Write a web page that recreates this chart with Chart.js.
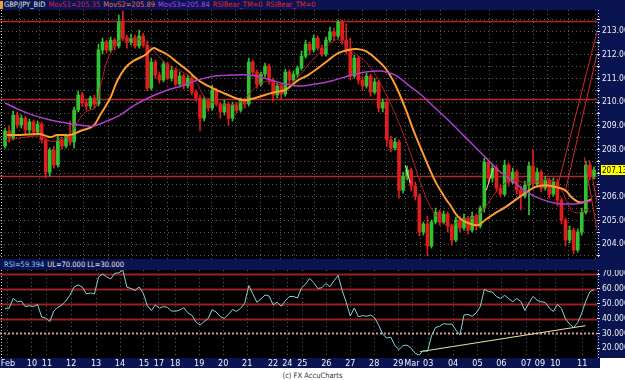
<!DOCTYPE html>
<html>
<head>
<meta charset="utf-8">
<title>GBP/JPY_BID</title>
<script src="https://cdn.jsdelivr.net/npm/chart.js@4.4.1/dist/chart.umd.min.js"></script>
<style>
  html, body { margin: 0; padding: 0; background: #fff; }
  body { position: relative; width: 625px; height: 380px; overflow: hidden;
         font-family: "Liberation Sans Narrow", "DejaVu Sans Condensed", sans-serif; }
  #frame { position: absolute; left: 0; top: 0; width: 625px; height: 358px; background: #0a1450; }
  #dateBar { position: absolute; left: 0; top: 358px; width: 600px; height: 10px; background: #0a1450; }
  .txt { position: absolute; font-size: 7.5px; line-height: 10px; white-space: nowrap; }
  .txt span { margin-right: 3px; }
  canvas { position: absolute; left: 0; }
  #price { top: 10px; }
  #rsi { top: 270px; }
  #copy { position: absolute; left: 0; top: 371px; width: 625px; text-align: center; font-size: 7.5px; color: #333; }
</style>
</head>
<body>
<div id="frame"></div>
<div id="dateBar"></div>
<div style="position:absolute;left:0;top:1px;width:3px;height:8px;background:#f0a030"></div>
<div class="txt" style="left:4px;top:0"><span style="color:#e4e4e4">GBP/JPY_BID</span><span id="t1" style="color:#d8204e"></span><span id="t2" style="color:#e86a5a"></span><span id="t3" style="color:#b040e8"></span><span style="color:#e02434">RSIBear_TM=0</span><span style="color:#e02434">RSIBear_TM=0</span></div>
<div class="txt" style="left:4px;top:260px"><span id="r1" style="color:#86c8f0"></span><span style="color:#e8e8e8">UL=70.000 LL=30.000</span></div>
<canvas id="price" width="625" height="249"></canvas>
<canvas id="rsi" width="625" height="98"></canvas>
<div id="copy">(c) FX AccuCharts</div>
<script>
// 4-hour bars, GBP/JPY bid
const opens = [
  208.14,208.78,208.48,209.45,209.03,209.32,208.82,209.16,208.73,209.07,
  208.40,207.04,207.97,207.34,208.40,208.14,208.56,208.31,209.66,210.30,
  209.96,209.83,210.17,209.92,212.20,212.54,212.20,212.62,212.37,213.38,
  212.70,212.54,212.70,212.37,212.79,212.41,210.59,211.69,211.14,210.93,
  211.61,211.01,211.35,210.76,211.10,210.68,211.01,210.42,210.17,209.32,
  210.08,209.75,210.51,209.92,209.58,209.92,209.32,209.87,209.66,210.08,
  209.92,211.69,211.27,210.76,211.18,211.52,210.93,210.30,210.68,210.34,
  211.27,210.93,211.18,211.44,211.94,212.45,212.20,212.70,212.28,212.03,
  212.62,212.96,212.79,213.38,212.62,212.20,211.10,211.86,210.93,210.68,
  211.10,210.42,210.85,209.75,210.00,208.40,208.06,208.31,206.28,206.87,
  207.13,206.45,206.03,204.51,204.85,203.92,204.93,205.35,204.93,205.27,
  204.76,204.17,205.02,204.68,205.10,204.59,205.18,204.76,205.52,207.47,
  206.79,207.21,206.37,206.11,207.34,206.62,207.04,206.28,206.03,206.49,
  207.30,206.54,207.04,206.37,206.71,206.11,206.62,205.86,205.02,204.17,
  204.59,203.75,204.51,205.35,207.34,206.87
];
const highs = [
  208.90,208.99,209.62,209.58,209.45,209.41,209.28,209.24,209.20,209.16,
  208.48,208.06,208.14,208.56,208.52,208.65,209.20,209.79,210.47,210.42,
  210.08,210.25,210.30,212.45,212.70,212.62,212.75,212.70,213.68,213.85,
  212.83,212.87,212.83,213.04,212.92,212.58,211.86,211.77,211.27,211.73,
  211.69,211.52,211.44,211.27,211.18,211.14,211.10,210.51,210.30,210.21,
  210.17,210.72,210.59,210.00,210.08,210.00,210.00,209.96,210.17,210.17,
  211.86,211.77,211.35,211.27,211.65,211.61,211.01,210.80,210.76,211.39,
  211.35,211.31,211.52,212.16,212.62,212.54,212.83,212.79,212.41,212.75,
  213.17,213.13,213.46,213.46,213.30,212.70,211.99,211.94,211.10,211.23,
  211.18,211.01,210.93,210.13,210.08,208.56,208.48,208.40,207.04,207.30,
  207.21,206.62,206.11,204.93,205.18,205.02,205.52,205.44,205.40,205.35,
  204.85,205.14,205.18,205.27,205.18,205.35,205.27,205.61,207.63,207.55,
  207.38,207.34,206.49,207.55,207.42,207.21,207.13,206.45,206.66,207.47,
  207.97,207.21,207.13,206.87,206.79,206.79,206.75,205.94,205.10,204.76,
  204.68,204.64,205.52,207.51,207.47,207.25
];
const lows = [
  208.06,208.31,208.40,208.90,208.90,208.65,208.69,208.61,208.61,208.27,
  206.79,206.87,207.21,207.25,208.01,208.06,208.18,208.06,209.58,209.83,
  209.66,209.70,209.75,209.83,212.03,212.07,212.11,212.20,212.28,212.58,
  212.28,212.41,212.28,212.28,212.32,210.47,210.51,211.01,210.80,210.85,
  210.93,210.89,210.68,210.63,210.55,210.59,210.30,210.04,208.78,209.20,
  209.62,209.66,209.83,209.32,209.45,209.03,209.20,209.54,209.58,209.75,
  209.83,211.14,210.59,210.68,211.06,210.76,210.04,210.17,210.13,210.25,
  210.76,210.85,211.06,211.35,211.86,211.99,212.11,212.20,211.94,211.94,
  212.54,212.62,212.70,212.45,212.03,210.93,211.01,210.76,210.51,210.59,
  210.25,210.34,209.58,209.58,208.14,207.89,207.97,205.94,206.16,206.71,
  206.24,205.86,204.34,204.38,203.50,203.83,204.85,204.80,204.85,204.51,
  203.96,204.09,204.51,204.59,204.42,204.51,204.59,204.68,205.35,206.62,
  206.62,206.20,205.99,206.03,206.45,206.54,206.11,205.44,205.94,205.23,
  206.37,206.45,206.20,206.28,205.94,206.03,205.61,204.85,203.92,204.04,
  203.58,203.66,204.38,205.27,206.71,206.75
];
const closes = [
  208.78,208.48,209.45,209.03,209.32,208.82,209.16,208.73,209.07,208.40,
  207.04,207.97,207.34,208.40,208.14,208.56,208.31,209.66,210.30,209.96,
  209.83,210.17,209.92,212.20,212.54,212.20,212.62,212.37,213.38,212.70,
  212.54,212.70,212.37,212.79,212.41,210.59,211.69,211.14,210.93,211.61,
  211.01,211.35,210.76,211.10,210.68,211.01,210.42,210.17,209.32,210.08,
  209.75,210.51,209.92,209.58,209.92,209.32,209.87,209.66,210.08,209.92,
  211.69,211.27,210.76,211.18,211.52,210.93,210.30,210.68,210.34,211.27,
  210.93,211.18,211.44,211.94,212.45,212.20,212.70,212.28,212.03,212.62,
  212.96,212.79,213.38,212.62,212.20,211.10,211.86,210.93,210.68,211.10,
  210.42,210.85,209.75,210.00,208.40,208.06,208.31,206.28,206.87,207.13,
  206.45,206.03,204.51,204.85,203.92,204.93,205.35,204.93,205.27,204.76,
  204.17,205.02,204.68,205.10,204.59,205.18,204.76,205.52,207.47,206.79,
  207.21,206.37,206.11,207.34,206.62,207.04,206.28,206.03,206.49,207.30,
  206.54,207.04,206.37,206.71,206.11,206.62,205.86,205.02,204.17,204.59,
  203.75,204.51,205.35,207.34,206.87,207.13
];
const rsi = [
  46.90,46.90,53.64,51.35,51.82,47.98,48.65,47.98,49.60,41.04,
  40.37,37.88,45.08,47.58,49.12,52.02,55.86,61.25,62.59,61.25,
  56.67,57.21,56.53,67.98,70.00,68.18,66.63,70.47,70.81,72.49,
  61.11,60.24,58.89,61.25,57.21,48.79,45.42,49.12,46.90,48.11,
  47.44,45.08,44.95,45.76,47.31,43.87,42.19,37.68,35.66,37.88,
  40.03,46.03,44.41,41.25,40.17,42.73,46.09,44.81,46.90,50.27,
  62.19,56.67,50.94,53.23,55.86,55.19,49.26,51.01,48.25,51.95,
  54.85,54.85,53.84,60.71,63.27,67.10,64.14,60.24,60.77,63.54,
  61.45,65.49,69.12,58.96,50.94,41.72,47.10,41.25,41.99,41.52,
  42.39,40.57,35.45,29.46,26.90,27.44,21.65,19.16,21.85,22.05,
  20.03,16.53,15.45,18.48,17.90,28.38,33.97,34.85,36.60,36.13,
  36.33,32.29,28.92,42.39,42.73,41.52,43.74,47.98,59.70,58.22,
  57.88,54.71,53.64,55.66,53.50,51.35,53.50,51.48,45.42,50.47,
  54.92,52.36,51.35,50.81,47.10,44.75,49.53,46.77,39.70,36.33,
  33.97,37.27,43.74,51.82,58.08,59.394
];
// moving averages: [bar, value]
const movS1 = [[0,208.35],[3.7,208.48],[8.6,208.56],[11.1,208.35],[13.5,208.40],[16,208.69],[18.5,209.32],
  [20.2,209.62],[22.2,209.75],[23.4,210.59],[25.1,211.73],[27.1,212.41],[29.1,212.70],[30.8,212.70],[32.5,212.70],
  [34.5,212.41],[36,212.28],[38.2,211.86],[40.1,211.56],[43.3,211.31],[46.8,210.89],[49.3,210.17],[51.7,209.96],
  [54.9,209.87],[57.4,209.96],[59.9,210.30],[62.3,210.72],[64.8,210.89],[68,210.72],[71.4,210.93],[75.4,211.73],
  [78.8,212.28],[81.3,212.62],[82.8,212.58],[85.2,212.16],[87.7,211.86],[90.1,211.44],[92.6,210.72],[95.1,209.87],
  [97.5,208.90],[100,207.76],[102.5,206.49],[104.9,205.52],[107.4,204.97],[109.6,204.76],[112.3,205.02],
  [115.8,205.14],[118.2,205.56],[120.7,206.16],[123.2,206.58],[125.6,206.71],[128.1,206.58],[130.5,206.62],
  [133,206.71],[135.5,206.62],[137.4,206.16],[139.4,205.44],[141.1,205.31],[142.9,205.44],[144.3,205.35]];
const movS2 = [[0.5,208.61],[3.7,208.61],[8.6,208.65],[11.1,208.52],[12.8,208.61],[16,208.61],[18.5,208.78],
  [21.7,208.99],[23.4,209.45],[25.9,210.17],[27.6,210.89],[29.6,211.44],[31.5,211.73],[34.5,211.99],[36.5,212.28],
  [37.7,212.20],[40.1,211.99],[42.6,211.65],[45.1,211.31],[47.5,210.93],[50,210.68],[52.5,210.47],[54.9,210.30],
  [57.4,210.13],[59.1,210.08],[61.6,210.17],[64,210.30],[66.5,210.42],[69,210.51],[70.9,210.76],[72.2,210.93],
  [74.6,211.14],[77.1,211.44],[79.6,211.77],[82,212.07],[84.5,212.20],[86.5,212.24],[88.7,212.16],[91.1,211.86],
  [93.6,211.44],[96.1,210.72],[98.5,209.75],[101,208.61],[103.4,207.63],[105.9,206.66],[108.4,205.94],
  [109.6,205.65],[111.6,205.14],[114,204.89],[116.5,204.80],[118.2,205.02],[120.7,205.31],[123.2,205.56],
  [125.6,205.86],[128.1,206.16],[130.5,206.41],[133,206.49],[135.5,206.41],[137.9,206.28],[139.4,205.99],
  [141.1,205.78],[142.9,205.78],[144.3,205.89]];
const movS3 = [[0,209.96],[3.7,209.66],[6.9,209.45],[11.1,209.24],[15.3,209.11],[18.5,209.03],[21.7,208.99],
  [25.1,209.20],[28.3,209.45],[31.5,209.83],[35.2,210.17],[39.4,210.47],[43.3,210.68],[47.5,210.93],[51.7,211.10],
  [55.7,211.14],[59.9,211.14],[64,211.01],[68,210.80],[72.2,210.68],[76.4,210.76],[80.3,210.89],[84.5,211.10],
  [88.7,211.27],[92.6,211.31],[96.1,211.14],[99.3,210.72],[102.5,210.30],[105.9,209.75],[109.1,209.24],
  [113.3,208.52],[117.2,207.85],[121.4,207.13],[125.6,206.58],[128.8,206.16],[132,205.90],[135.5,205.73],
  [138.7,205.69],[141.9,205.73],[144.3,205.84]];

// drawn trend lines [bar, value]
const trendUp1 = [[135.7,206.20],[145.75,212.96]];
const trendUp2 = [[137.9,206.20],[145.75,212.03]];
const trendDn1 = [[142.6,207.68],[145.75,204.60]];
const trendDn2 = [[143.8,207.55],[145.75,205.78]];
const paleMarks = [[[98.5,207.34],[99.75,206.58]], [[118.2,207.68],[120.2,207.34]], [[118.5,206.28],[120.2,207.21]]];
const rsiTrend = [[102.2,17.7],[142.9,35.2]];

// horizontal levels
const priceLevels = [213.42, 210.14, 206.86];
const rsiLevels = [70, 60, 50, 40];
const rsiDotted = 30;

// x-axis: day boundaries (bar position) and their labels
const dayTicks = [0.7,6.6,10.3,16.3,22.4,28.3,34.2,37.9,41.9,47.8,53.7,59.6,66.0,69.5,73.2,79.1,85.0,90.9,96.8,100.2,104.2,110.3,116.3,122.2,128.3,131.7,135.5,142.1];
const dayLabels = ['Feb','10','11','12','13','14','15','17','18','19','20','21','22','24','25','26','27','28','29','Mar','03','04','05','06','07','09','10','11'];
const rsiTicks = [20, 30, 40, 50, 60, 70];

const FONT = '"Liberation Sans Narrow", "DejaVu Sans Condensed", sans-serif';
const UP = '#2fc42f', DOWN = '#e41c1c';
const X_MIN = -1.25, X_MAX = 145.75;

const pts = arr => arr.map(([x, y]) => ({x, y}));
const last = a => a[a.length - 1];

document.getElementById('t1').textContent = 'MovS1=' + last(movS1)[1].toFixed(2);
document.getElementById('t2').textContent = 'MovS2=' + last(movS2)[1].toFixed(2);
document.getElementById('t3').textContent = 'MovS3=' + last(movS3)[1].toFixed(2);
document.getElementById('r1').textContent = 'RSI=' + last(rsi).toFixed(3);

const priceGrid = [];
for (let v = 203.5; v <= 213.5; v += 0.5) priceGrid.push(v);

// black plot area, level lines, dotted borders, last price tag
const panel = {
  id: 'panel',
  beforeDraw(chart) {
    const {ctx, chartArea: a} = chart;
    ctx.save();
    ctx.fillStyle = '#000';
    ctx.fillRect(a.left, a.top, a.right - a.left, a.bottom - a.top);
    ctx.restore();
  },
  beforeDatasetsDraw(chart, args, o) {
    const {ctx, chartArea: a, scales: {y}} = chart;
    ctx.save();
    ctx.strokeStyle = o.levelColor;
    ctx.lineWidth = o.levelWidth;
    (o.levels || []).forEach(v => {
      const py = Math.round(y.getPixelForValue(v)) + 0.5;
      ctx.beginPath(); ctx.moveTo(a.left, py); ctx.lineTo(a.right, py); ctx.stroke();
    });
    if (o.dotted != null) {
      const py = Math.round(y.getPixelForValue(o.dotted)) + 0.5;
      ctx.setLineDash([2, 2]);
      ctx.strokeStyle = '#d89a9a';
      ctx.beginPath(); ctx.moveTo(a.left, py); ctx.lineTo(a.right, py); ctx.stroke();
    }
    ctx.setLineDash([1, 2]);
    ctx.strokeStyle = '#d8d8d8';
    ctx.lineWidth = 1;
    ctx.beginPath();
    ctx.moveTo(a.left + 1.5, a.top); ctx.lineTo(a.left + 1.5, a.bottom);
    ctx.moveTo(a.right + 1.5, a.top); ctx.lineTo(a.right + 1.5, a.bottom);
    ctx.stroke();
    ctx.restore();
  },
  afterDraw(chart, args, o) {
    if (o.lastValue == null) return;
    const {ctx, chartArea: a, scales: {y}} = chart;
    const py = Math.round(y.getPixelForValue(o.lastValue));
    ctx.save();
    ctx.fillStyle = '#ffff00';
    ctx.fillRect(a.right + 4, py - 5, 24, 10);
    ctx.fillStyle = '#000';
    ctx.font = '8px ' + FONT;
    ctx.textBaseline = 'middle';
    ctx.fillText(o.lastValue.toFixed(2), a.right + 5, py + 0.5);
    ctx.restore();
  }
};

const candleColors = closes.map((c, i) => c >= opens[i] ? UP : DOWN);
const lineDs = (data, color, width, order) => ({
  type: 'line', data: pts(data), borderColor: color, borderWidth: width,
  pointRadius: 0, tension: 0.35, order: order
});

const xScale = extra => Object.assign({
  type: 'linear', min: X_MIN, max: X_MAX, offset: false,
  afterBuildTicks: s => { s.ticks = dayTicks.map(v => ({value: v})); },
  grid: { color: '#5c5c5c', drawTicks: false },
  border: { display: false, dash: [1, 3] }
}, extra);

new Chart(document.getElementById('price'), {
  type: 'bar',
  data: {
    datasets: [
      lineDs(movS3, '#b23ccc', 1.5, 1),
      lineDs(movS2, '#ff9c30', 2, 1),
      lineDs(movS1, '#b0202c', 1, 1),
      lineDs(trendUp1, '#d42a2a', 1, 1),
      lineDs(trendUp2, '#d42a2a', 1, 1),
      lineDs(trendDn1, '#d42a2a', 1, 1),
      lineDs(trendDn2, '#d42a2a', 1, 1),
      ...paleMarks.map(m => lineDs(m, '#e4e4a8', 1, 1)),
      { data: closes.map((c, i) => ({x: i, y: [lows[i], highs[i]]})), backgroundColor: candleColors,
        barThickness: 1, grouped: false, order: 3 },
      { data: closes.map((c, i) => ({x: i, y: [opens[i], c]})), backgroundColor: candleColors,
        barThickness: 3, grouped: false, order: 2 }
    ]
  },
  options: {
    responsive: false,
    animation: false,
    layout: { padding: 0 },
    plugins: {
      legend: { display: false },
      tooltip: { enabled: false },
      panel: { levels: priceLevels, levelColor: '#b02a2a', levelWidth: 1.5, lastValue: last(closes) }
    },
    scales: {
      x: xScale({
        ticks: { display: false },
        afterFit: s => { s.height = 0; s.paddingLeft = 0; s.paddingRight = 0; }
      }),
      y: {
        position: 'right', min: 203.37, max: 213.89,
        afterBuildTicks: s => { s.ticks = priceGrid.map(v => ({value: v})); },
        afterFit: s => { s.width = 28; s.paddingTop = 0; s.paddingBottom = 0; },
        ticks: { color: '#f0f0f0', font: { family: FONT, size: 8.5 }, padding: 2, autoSkip: false,
                 callback: v => Number.isInteger(v) ? v.toFixed(2) : '' },
        grid: { color: '#5c5c5c', tickLength: 3, tickColor: '#e0e0e0' },
        border: { display: false, dash: [1, 3] }
      }
    }
  },
  plugins: [panel]
});

new Chart(document.getElementById('rsi'), {
  type: 'line',
  data: {
    datasets: [
      { data: rsi.map((v, i) => ({x: i, y: v})), borderColor: '#80d4d8', borderWidth: 1, pointRadius: 0, tension: 0 },
      { data: pts(rsiTrend), borderColor: '#e6e6a0', borderWidth: 1, pointRadius: 0 }
    ]
  },
  options: {
    responsive: false,
    animation: false,
    layout: { padding: 0 },
    plugins: {
      legend: { display: false },
      tooltip: { enabled: false },
      panel: { levels: rsiLevels, dotted: rsiDotted, levelColor: '#9c2020', levelWidth: 2 }
    },
    scales: {
      x: xScale({
        ticks: { color: '#f4f4f4', font: { family: FONT, size: 9 }, padding: 0, maxRotation: 0, autoSkip: false,
                 callback: (v, i) => dayLabels[i] },
        afterFit: s => { s.height = 10; s.paddingLeft = 0; s.paddingRight = 0; }
      }),
      y: {
        position: 'right', min: 13.43, max: 72.7,
        afterBuildTicks: s => { s.ticks = rsiTicks.map(v => ({value: v})); },
        afterFit: s => { s.width = 28; s.paddingTop = 0; s.paddingBottom = 0; },
        ticks: { color: '#f0f0f0', font: { family: FONT, size: 8.5 }, padding: 2, autoSkip: false,
                 callback: v => v.toFixed(3) },
        grid: { color: 'rgba(0,0,0,0)', tickLength: 3, tickColor: '#e0e0e0' },
        border: { display: false }
      }
    }
  },
  plugins: [panel]
});
</script>
</body>
</html>
